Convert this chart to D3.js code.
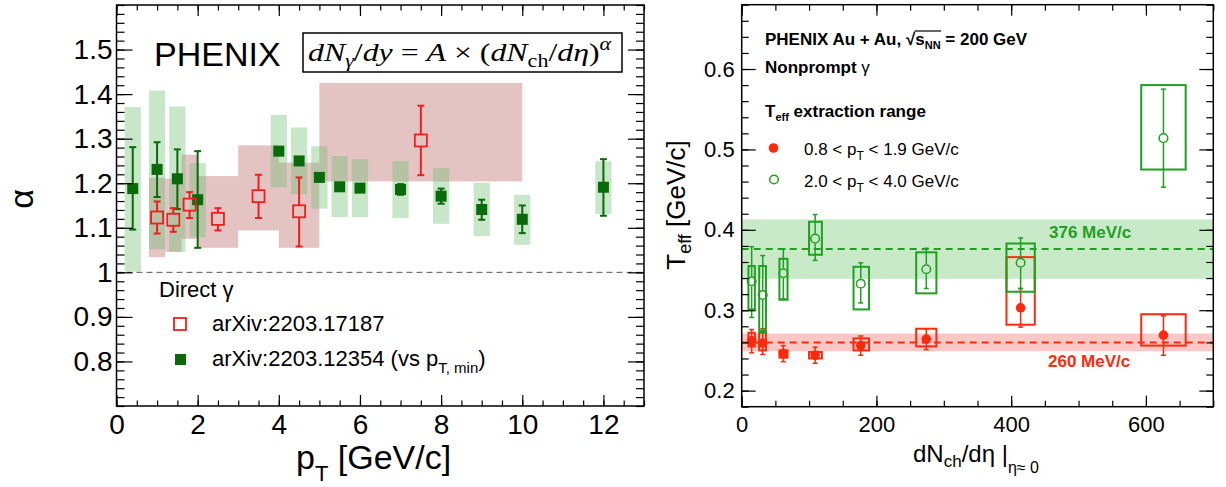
<!DOCTYPE html>
<html><head><meta charset="utf-8">
<script src="https://cdn.jsdelivr.net/npm/d3@7"></script>
<style>
body{margin:0;background:#fff}
svg{display:block}
text{font-family:"Liberation Sans",Arial,Helvetica,sans-serif}
</style>
</head><body>
<svg id="c" width="1226" height="487"></svg>
<script>
// ================= LEFT PANEL DATA (alpha vs pT) =================
// arXiv:2203.17187 (red open squares)
const redPt    = [1.0, 1.4, 1.8, 2.5, 3.5, 4.5, 7.5];
const redAlpha = [1.123, 1.118, 1.152, 1.120, 1.171, 1.137, 1.296];
const redErrLo = [1.087, 1.091, 1.122, 1.094, 1.122, 1.058, 1.218];
const redErrHi = [1.159, 1.144, 1.180, 1.144, 1.219, 1.213, 1.374];
const redBinLo = [0.8, 1.2, 1.6, 2.0, 3.0, 4.0, 5.0];
const redBinHi = [1.2, 1.6, 2.0, 3.0, 4.0, 5.0, 10.0];
const redSysLo = [1.034, 1.046, 1.075, 1.055, 1.094, 1.055, 1.204];
const redSysHi = [1.212, 1.210, 1.264, 1.216, 1.285, 1.246, 1.425];
// arXiv:2203.12354 (green filled squares, vs pT,min)
const grnPt    = [0.4, 1.0, 1.5, 2.0, 4.0, 4.5, 5.0, 5.5, 6.0, 7.0, 8.0, 9.0, 10.0, 12.0];
const grnAlpha = [1.188, 1.231, 1.210, 1.163, 1.272, 1.250, 1.213, 1.192, 1.189, 1.186, 1.171, 1.141, 1.119, 1.191];
const grnErrLo = [1.096, 1.169, 1.142, 1.055, 1.266, 1.244, 1.207, 1.186, 1.183, 1.174, 1.154, 1.118, 1.088, 1.127];
const grnErrHi = [1.281, 1.292, 1.276, 1.272, 1.278, 1.256, 1.219, 1.198, 1.195, 1.198, 1.188, 1.163, 1.150, 1.254];
const grnSysLo = [1.002, 1.052, 1.046, 1.079, 1.191, 1.175, 1.143, 1.124, 1.124, 1.122, 1.109, 1.081, 1.062, 1.131];
const grnSysHi = [1.371, 1.408, 1.372, 1.245, 1.353, 1.325, 1.283, 1.261, 1.254, 1.250, 1.234, 1.201, 1.174, 1.249];
const grnSysHalfWidth = 0.2;
const leftXTicks  = [0, 2, 4, 6, 8, 10, 12];
const leftXLabels = ["0", "2", "4", "6", "8", "10", "12"];
const leftYTicks  = [0.8, 0.9, 1.0, 1.1, 1.2, 1.3, 1.4, 1.5];
const leftYLabels = ["0.8", "0.9", "1", "1.1", "1.2", "1.3", "1.4", "1.5"];

// ================= RIGHT PANEL DATA (Teff vs dNch/deta) =================
const dNch      = [14.8, 31.2, 61.8, 109, 176.7, 274, 414, 626];
const sysNchLo  = [10, 26, 56, 100, 166, 259, 393, 593];
const sysNchHi  = [19.5, 36, 68, 119, 189, 289, 435, 659];
// 0.8 < pT < 1.9 GeV/c (red filled circles)
const lowT      = [0.262, 0.259, 0.246, 0.244, 0.256, 0.264, 0.303, 0.269];
const lowErrLo  = [0.247, 0.245, 0.236, 0.234, 0.244, 0.251, 0.279, 0.244];
const lowErrHi  = [0.276, 0.277, 0.256, 0.254, 0.268, 0.277, 0.327, 0.293];
const lowSysLo  = [0.255, 0.250, 0.241, 0.240, 0.250, 0.255, 0.282, 0.256];
const lowSysHi  = [0.272, 0.272, 0.250, 0.248, 0.265, 0.277, 0.366, 0.295];
// 2.0 < pT < 4.0 GeV/c (green open circles)
const highT     = [0.336, 0.319, 0.346, 0.389, 0.333, 0.351, 0.359, 0.514];
const highErrLo = [0.291, 0.275, 0.314, 0.362, 0.309, 0.327, 0.327, 0.453];
const highErrHi = [0.379, 0.368, 0.376, 0.419, 0.359, 0.377, 0.390, 0.575];
const highSysLo = [0.301, 0.273, 0.313, 0.369, 0.301, 0.321, 0.323, 0.475];
const highSysHi = [0.355, 0.355, 0.364, 0.410, 0.354, 0.372, 0.383, 0.580];
// averages
const avgLow  = [0.260, 0.249, 0.271];   // mean, band low, band high
const avgHigh = [0.376, 0.339, 0.413];
const avgLowLabel = "260 MeV/c";
const avgHighLabel = "376 MeV/c";
const rightXTicks  = [0, 200, 400, 600];
const rightXLabels = ["0", "200", "400", "600"];
const rightYTicks  = [0.2, 0.3, 0.4, 0.5, 0.6];
const rightYLabels = ["0.2", "0.3", "0.4", "0.5", "0.6"];

// ================= DRAWING =================
const svg = d3.select("#c");
const RED = "#f01e1e", DKGRN = "#086a08";
const RRED = "#fb2a0c", RGRN = "#1fa01f";

const xL = d3.scaleLinear().domain([0, 13]).range([116.5, 644]);
const yL = d3.scaleLinear().domain([0.7, 1.6]).range([406, 5]);
const xR = d3.scaleLinear().domain([0, 700]).range([741.7, 1213.3]);
const yR = d3.scaleLinear().domain([0.18, 0.68]).range([406.7, 4.7]);

function drawAxes(g, x, y, c) {
  const [x0, x1] = x.range(), [y0, y1] = y.range();
  const add = (tr, axis) => {
    const a = g.append("g").attr("transform", tr).call(axis);
    a.select(".domain").remove();
    a.selectAll("line").attr("stroke", "#000").attr("stroke-width", 1.2);
    return a;
  };
  add(`translate(0,${y0})`, d3.axisBottom(x).tickValues(x.ticks(c.xMinorN)).tickSize(-c.xMin).tickFormat(""));
  add(`translate(0,${y1})`, d3.axisTop(x).tickValues(x.ticks(c.xMinorN)).tickSize(-c.xMin).tickFormat(""));
  add(`translate(0,${y1})`, d3.axisTop(x).tickValues(c.xTicks).tickSize(-c.xMaj).tickFormat(""));
  add(`translate(${x0},0)`, d3.axisLeft(y).tickValues(y.ticks(c.yMinorN)).tickSize(-c.yMin).tickFormat(""));
  add(`translate(${x1},0)`, d3.axisRight(y).tickValues(y.ticks(c.yMinorN)).tickSize(-c.yMin).tickFormat(""));
  add(`translate(${x1},0)`, d3.axisRight(y).tickValues(c.yTicks).tickSize(-c.yMaj).tickFormat(""));
  const bx = add(`translate(0,${y0})`, d3.axisBottom(x).tickValues(c.xTicks).tickSize(-c.xMaj)
      .tickPadding(c.xPad).tickFormat((d, i) => c.xLabels[i]));
  bx.selectAll("text").attr("font-size", c.fs).attr("fill", "#000")
    .style("font-family", '"Liberation Sans",Arial,sans-serif');
  const ly = add(`translate(${x0},0)`, d3.axisLeft(y).tickValues(c.yTicks).tickSize(-c.yMaj)
      .tickPadding(c.yPad).tickFormat((d, i) => c.yLabels[i]));
  ly.selectAll("text").attr("font-size", c.fs).attr("fill", "#000")
    .style("font-family", '"Liberation Sans",Arial,sans-serif');
  g.append("rect").attr("x", x0).attr("y", y1).attr("width", x1 - x0).attr("height", y0 - y1)
    .attr("fill", "none").attr("stroke", "#000").attr("stroke-width", 1.5);
}

function runs(textSel, list) {
  list.forEach(r => {
    const t = textSel.append("tspan").text(r.t);
    if (r.dy) t.attr("dy", r.dy);
    if (r.fs) t.attr("font-size", r.fs);
    if (r.it) t.attr("font-style", "italic");
    if (r.fw) t.attr("font-weight", r.fw);
    if (r.fam) t.style("font-family", r.fam);
  });
  return textSel;
}

// ---------- LEFT PANEL ----------
const gL = svg.append("g");
gL.selectAll(".rsys").data(redPt).join("rect")
  .attr("x", (d, i) => xL(redBinLo[i])).attr("width", (d, i) => xL(redBinHi[i]) - xL(redBinLo[i]))
  .attr("y", (d, i) => yL(redSysHi[i])).attr("height", (d, i) => yL(redSysLo[i]) - yL(redSysHi[i]))
  .attr("fill", "rgb(180,90,90)").attr("fill-opacity", 0.36);
gL.selectAll(".gsys").data(grnPt).join("rect")
  .attr("x", d => xL(d - grnSysHalfWidth)).attr("width", d => xL(d + grnSysHalfWidth) - xL(d - grnSysHalfWidth))
  .attr("y", (d, i) => yL(grnSysHi[i])).attr("height", (d, i) => yL(grnSysLo[i]) - yL(grnSysHi[i]))
  .attr("fill", "rgb(110,190,110)").attr("fill-opacity", 0.38);
gL.append("line").attr("x1", xL(0)).attr("x2", xL(13)).attr("y1", yL(1)).attr("y2", yL(1))
  .attr("stroke", "#555").attr("stroke-width", 1).attr("stroke-dasharray", "6,4");

// green error bars + markers
const gErr = gL.append("g").attr("stroke", DKGRN).attr("stroke-width", 2);
grnPt.forEach((p, i) => {
  const cx = xL(p);
  gErr.append("line").attr("x1", cx).attr("x2", cx).attr("y1", yL(grnErrHi[i])).attr("y2", yL(grnErrLo[i]));
  [grnErrHi[i], grnErrLo[i]].forEach(v => gErr.append("line").attr("x1", cx - 3.5).attr("x2", cx + 3.5).attr("y1", yL(v)).attr("y2", yL(v)));
});
gL.selectAll(".gm").data(grnPt).join("rect")
  .attr("x", d => xL(d) - 5.5).attr("y", (d, i) => yL(grnAlpha[i]) - 5.5)
  .attr("width", 11).attr("height", 11).attr("fill", DKGRN);

// red error bars + markers
const rErr = gL.append("g").attr("stroke", RED).attr("stroke-width", 2);
redPt.forEach((p, i) => {
  const cx = xL(p), cy = yL(redAlpha[i]);
  rErr.append("line").attr("x1", cx).attr("x2", cx).attr("y1", yL(redErrHi[i])).attr("y2", cy - 6);
  rErr.append("line").attr("x1", cx).attr("x2", cx).attr("y1", cy + 6).attr("y2", yL(redErrLo[i]));
  [redErrHi[i], redErrLo[i]].forEach(v => rErr.append("line").attr("x1", cx - 3.5).attr("x2", cx + 3.5).attr("y1", yL(v)).attr("y2", yL(v)));
});
gL.selectAll(".rm").data(redPt).join("rect")
  .attr("x", d => xL(d) - 6).attr("y", (d, i) => yL(redAlpha[i]) - 6)
  .attr("width", 12).attr("height", 12).attr("fill", "none").attr("stroke", RED).attr("stroke-width", 1.8);

drawAxes(gL, xL, yL, {xTicks: leftXTicks, xLabels: leftXLabels, yTicks: leftYTicks, yLabels: leftYLabels,
  xMinorN: 26, yMinorN: 45, xMaj: 11, xMin: 5.5, yMaj: 16, yMin: 8, xPad: 8, yPad: 4, fs: 28});

// titles
gL.append("text").attr("x", 154).attr("y", 66).attr("font-size", 34).text("PHENIX");
gL.append("rect").attr("x", 303).attr("y", 33).attr("width", 319).attr("height", 39)
  .attr("fill", "none").attr("stroke", "#000").attr("stroke-width", 1.5);
const fg = gL.append("g");
const ftxt = fg.append("text").attr("x", 0).attr("y", 0).attr("font-size", 26)
  .style("font-family", '"Liberation Serif","DejaVu Serif",serif');
runs(ftxt, [
  {t: "dN", it: 1}, {t: "γ", it: 1, fs: 18, dy: 6}, {t: "/", dy: -6}, {t: "dy", it: 1},
  {t: " = "}, {t: "A", it: 1}, {t: " × ("}, {t: "dN", it: 1}, {t: "ch", fs: 18, dy: 6},
  {t: "/", dy: -6}, {t: "dη", it: 1}, {t: ")"}, {t: "α", it: 1, fs: 18, dy: -11}
]);
{
  const w = ftxt.node().getBBox().width;
  fg.attr("transform", `translate(308,61) scale(${304 / w},1)`);
}
gL.append("text").attr("transform", "translate(33,199) rotate(-90)").attr("text-anchor", "middle")
  .attr("font-size", 34).text("α");
const xt = gL.append("text").attr("x", 296).attr("y", 469).attr("font-size", 34);
runs(xt, [{t: "p"}, {t: "T", fs: 22, dy: 12}, {t: " [GeV/c]", dy: -12}]);

// legend
gL.append("text").attr("x", 159).attr("y", 297).attr("font-size", 22).text("Direct γ");
gL.append("rect").attr("x", 174).attr("y", 318).attr("width", 12).attr("height", 12)
  .attr("fill", "none").attr("stroke", RED).attr("stroke-width", 1.8);
gL.append("text").attr("x", 212).attr("y", 331).attr("font-size", 22).text("arXiv:2203.17187");
gL.append("rect").attr("x", 175).attr("y", 354).attr("width", 11).attr("height", 11).attr("fill", DKGRN);
const l2 = gL.append("text").attr("x", 212).attr("y", 366).attr("font-size", 22);
runs(l2, [{t: "arXiv:2203.12354 (vs p"}, {t: "T, min", fs: 15, dy: 7}, {t: ")", dy: -7}]);

// ---------- RIGHT PANEL ----------
const gR = svg.append("g");
gR.append("rect").attr("x", xR(0)).attr("width", xR(700) - xR(0))
  .attr("y", yR(avgHigh[2])).attr("height", yR(avgHigh[1]) - yR(avgHigh[2])).attr("fill", "#c9eac9");
gR.append("rect").attr("x", xR(0)).attr("width", xR(700) - xR(0))
  .attr("y", yR(avgLow[2])).attr("height", yR(avgLow[1]) - yR(avgLow[2])).attr("fill", "#fcc8c6");
gR.append("line").attr("x1", xR(0)).attr("x2", xR(700)).attr("y1", yR(avgHigh[0])).attr("y2", yR(avgHigh[0]))
  .attr("stroke", RGRN).attr("stroke-width", 2).attr("stroke-dasharray", "7,5");
gR.append("line").attr("x1", xR(0)).attr("x2", xR(700)).attr("y1", yR(avgLow[0])).attr("y2", yR(avgLow[0]))
  .attr("stroke", RRED).attr("stroke-width", 2).attr("stroke-dasharray", "7,5");

function rightSeries(vals, eLo, eHi, sLo, sHi, col, filled) {
  const g = gR.append("g");
  g.selectAll("rect").data(dNch).join("rect")
    .attr("x", (d, i) => xR(sysNchLo[i])).attr("width", (d, i) => xR(sysNchHi[i]) - xR(sysNchLo[i]))
    .attr("y", (d, i) => yR(sHi[i])).attr("height", (d, i) => yR(sLo[i]) - yR(sHi[i]))
    .attr("fill", "none").attr("stroke", col).attr("stroke-width", 2);
  const e = g.append("g").attr("stroke", col).attr("stroke-width", 1.5);
  dNch.forEach((n, i) => {
    const cx = xR(n), cy = yR(vals[i]);
    if (filled) {
      e.append("line").attr("x1", cx).attr("x2", cx).attr("y1", yR(eHi[i])).attr("y2", yR(eLo[i]));
    } else {
      e.append("line").attr("x1", cx).attr("x2", cx).attr("y1", yR(eHi[i])).attr("y2", cy - 5);
      e.append("line").attr("x1", cx).attr("x2", cx).attr("y1", cy + 5).attr("y2", yR(eLo[i]));
    }
    [eHi[i], eLo[i]].forEach(v => e.append("line").attr("x1", cx - 2.5).attr("x2", cx + 2.5).attr("y1", yR(v)).attr("y2", yR(v)));
  });
  g.selectAll("circle").data(dNch).join("circle")
    .attr("cx", d => xR(d)).attr("cy", (d, i) => yR(vals[i])).attr("r", filled ? 4.8 : 4.3)
    .attr("fill", filled ? col : "none").attr("stroke", col).attr("stroke-width", filled ? 0 : 1.5);
}
rightSeries(lowT, lowErrLo, lowErrHi, lowSysLo, lowSysHi, RRED, true);
rightSeries(highT, highErrLo, highErrHi, highSysLo, highSysHi, RGRN, false);

drawAxes(gR, xR, yR, {xTicks: rightXTicks, xLabels: rightXLabels, yTicks: rightYTicks, yLabels: rightYLabels,
  xMinorN: 14, yMinorN: 25, xMaj: 11, xMin: 6, yMaj: 14, yMin: 7, xPad: 10, yPad: 7, fs: 22});

// band labels
gR.append("text").attr("x", 1049).attr("y", 238).attr("font-size", 17).attr("font-weight", "bold")
  .attr("fill", RGRN).text(avgHighLabel);
gR.append("text").attr("x", 1048).attr("y", 367).attr("font-size", 17).attr("font-weight", "bold")
  .attr("fill", RRED).text(avgLowLabel);

// header texts
const h1 = gR.append("text").attr("x", 765).attr("y", 45).attr("font-size", 17).attr("font-weight", "bold");
runs(h1, [{t: "PHENIX Au + Au, "}, {t: "√"}, {t: "s"}, {t: "NN", fs: 11, dy: 4}, {t: " = 200 GeV", dy: -4}]);
{
  const n = h1.node();
  const xa = n.getEndPositionOfChar(16).x, xb = n.getEndPositionOfChar(19).x;
  gR.append("line").attr("x1", xa - 0.5).attr("x2", xb + 0.5).attr("y1", 45 - 14).attr("y2", 45 - 14)
    .attr("stroke", "#000").attr("stroke-width", 1.2);
}
const h2 = gR.append("text").attr("x", 765).attr("y", 73).attr("font-size", 17).attr("font-weight", "bold");
runs(h2, [{t: "Nonprompt "}, {t: "γ", fw: "normal"}]);
const h3 = gR.append("text").attr("x", 765).attr("y", 117).attr("font-size", 17).attr("font-weight", "bold");
runs(h3, [{t: "T"}, {t: "eff", fs: 11, dy: 4}, {t: " extraction range", dy: -4}]);

gR.append("circle").attr("cx", 773.5).attr("cy", 148).attr("r", 4.8).attr("fill", RRED);
const lg1 = gR.append("text").attr("x", 804).attr("y", 155).attr("font-size", 17);
runs(lg1, [{t: "0.8 < p"}, {t: "T", fs: 12, dy: 5}, {t: " < 1.9 GeV/c", dy: -5}]);
gR.append("circle").attr("cx", 774).attr("cy", 179.5).attr("r", 4.3).attr("fill", "none")
  .attr("stroke", RGRN).attr("stroke-width", 1.5);
const lg2 = gR.append("text").attr("x", 804).attr("y", 187).attr("font-size", 17);
runs(lg2, [{t: "2.0 < p"}, {t: "T", fs: 12, dy: 5}, {t: " < 4.0 GeV/c", dy: -5}]);

// axis titles
const rxt = gR.append("text").attr("x", 913).attr("y", 462).attr("font-size", 24);
runs(rxt, [{t: "dN"}, {t: "ch", fs: 17, dy: 5}, {t: "/dη |", dy: -5}, {t: "η≈ 0", fs: 16, dy: 11}]);
const ryt = gR.append("text").attr("transform", "translate(685,205) rotate(-90)").attr("text-anchor", "middle")
  .attr("font-size", 26);
runs(ryt, [{t: "T"}, {t: "eff", fs: 18, dy: 6}, {t: " [GeV/c]", dy: -6}]);
</script>
</body></html>
